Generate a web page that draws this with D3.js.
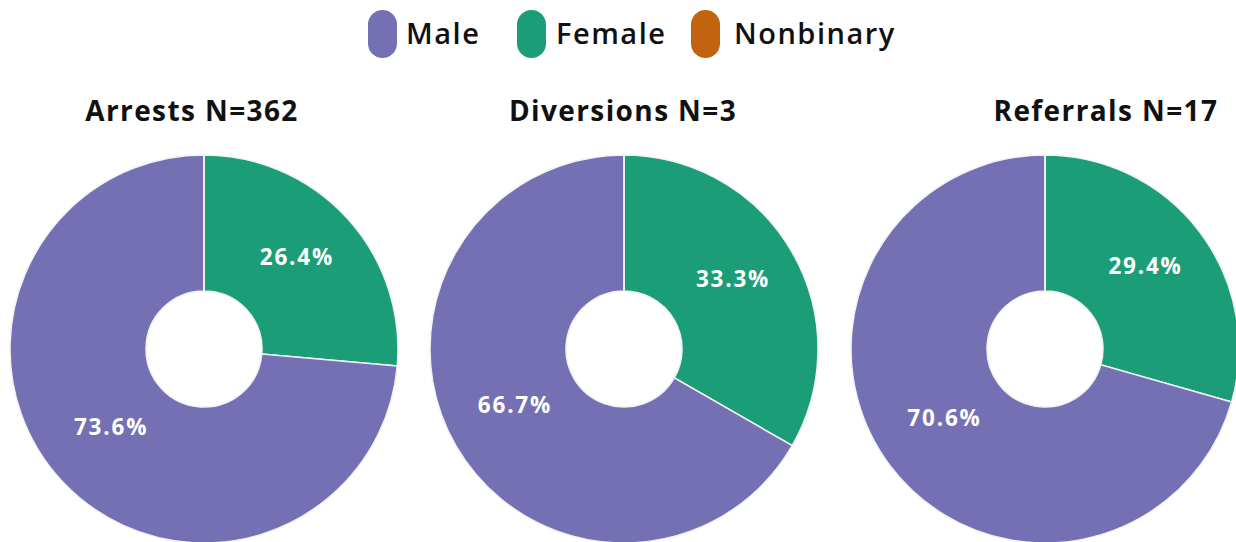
<!DOCTYPE html>
<html>
<head>
<meta charset="utf-8">
<script src="https://cdn.jsdelivr.net/npm/d3@7"></script>
<style>
  body { margin: 0; background: #fff; }
  svg { display: block; font-family: "Open Sans", sans-serif; }
</style>
</head>
<body>
<svg class="chart" width="1236" height="542"></svg>
<script>
//------------------------------------------------------------------------------
//Data
//------------------------------------------------------------------------------
var genders = ["Female", "Male", "Nonbinary"];
var legendOrder = ["Male", "Female", "Nonbinary"];
var chartTitles = ["Arrests N=362", "Diversions N=3", "Referrals N=17"];
var femalePct = [26.4, 33.3, 29.4];
var malePct = [73.6, 66.7, 70.6];
var nonbinaryPct = [0, 0, 0];

var colors = { Male: "#7570b3", Female: "#1b9e77", Nonbinary: "#c2640f" };

//------------------------------------------------------------------------------
//Layout
//------------------------------------------------------------------------------
var svg = d3.select(".chart");
var outerR = 194, innerR = 58, cy = 349;
var centers = [204, 624, 1045];
var titleX = [192, 623, 1106];

var pie = d3.pie().sort(null).value(function (d) { return d.value; });
var arc = d3.arc().innerRadius(innerR).outerRadius(outerR);

//------------------------------------------------------------------------------
//Legend
//------------------------------------------------------------------------------
var legendX = [368, 517, 691];
var legendTextX = [406, 556, 734];
var legend = svg.append("g");
legendOrder.forEach(function (name, i) {
  legend.append("rect")
    .attr("x", legendX[i]).attr("y", 10)
    .attr("width", 29).attr("height", 48)
    .attr("rx", 14.5).attr("ry", 14.5)
    .attr("fill", colors[name]);
  legend.append("text")
    .attr("x", legendTextX[i]).attr("y", 34)
    .attr("dy", "0.35em")
    .attr("font-size", "29px")
    .attr("font-weight", 600)
    .attr("letter-spacing", "1.5px")
    .attr("fill", "#111")
    .text(name);
});

//------------------------------------------------------------------------------
//Donuts
//------------------------------------------------------------------------------
chartTitles.forEach(function (title, c) {
  var data = [
    { name: genders[0], value: femalePct[c] },
    { name: genders[1], value: malePct[c] },
    { name: genders[2], value: nonbinaryPct[c] }
  ];

  svg.append("text")
    .attr("x", titleX[c]).attr("y", 121)
    .attr("text-anchor", "middle")
    .attr("font-size", "28px")
    .attr("font-weight", 700)
    .attr("letter-spacing", "1.4px")
    .attr("fill", "#111")
    .text(title);

  var g = svg.append("g")
    .attr("transform", "translate(" + centers[c] + "," + cy + ")");

  var arcs = pie(data);

  g.selectAll("path")
    .data(arcs)
    .enter()
    .append("path")
    .attr("d", arc)
    .attr("fill", function (d) { return colors[d.data.name]; })
    .attr("stroke", "#f2f2f2")
    .attr("stroke-width", 1.5);

  g.selectAll("text")
    .data(arcs.filter(function (d) { return d.data.value > 0; }))
    .enter()
    .append("text")
    .attr("transform", function (d) {
      var p = arc.centroid(d);
      return "translate(" + p[0] + "," + (p[1] - 7) + ")";
    })
    .attr("text-anchor", "middle")
    .attr("dy", "0.35em")
    .attr("font-size", "22.5px")
    .attr("font-weight", 700)
    .attr("letter-spacing", "1.8px")
    .attr("fill", "#fff")
    .text(function (d) { return d.data.value.toFixed(1) + "%"; });
});
</script>
</body>
</html>
